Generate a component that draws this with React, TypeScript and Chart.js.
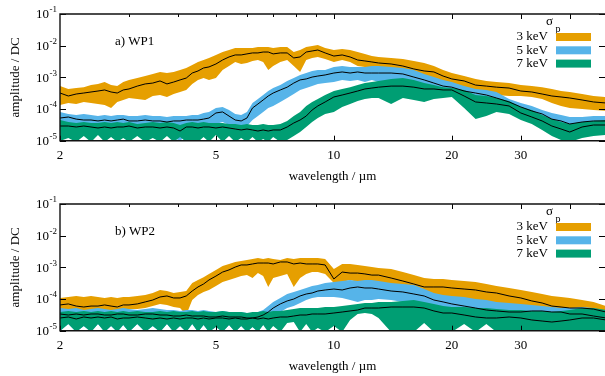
import React, { useEffect, useRef } from 'react';
import { Chart, registerables } from 'chart.js';

Chart.register(...registerables);

const SERIF = "'Liberation Serif', 'Times New Roman', Times, serif";

// ---------------- data ----------------
const WAVE = [
  2.0, 2.1, 2.2, 2.3, 2.4, 2.5, 2.6, 2.7, 2.8, 2.9,
  3.0, 3.15, 3.3, 3.45, 3.6, 3.75, 3.9, 4.05, 4.2, 4.35,
  4.5, 4.65, 4.8, 5.0, 5.2, 5.4, 5.6, 5.8, 6.0, 6.2,
  6.4, 6.6, 6.8, 7.0, 7.3, 7.6, 7.9, 8.2, 8.5, 8.8,
  9.1, 9.5, 10, 10.5, 11, 11.5, 12, 12.5, 13, 14,
  15, 16, 17, 18, 19, 20, 21.5, 23, 24.5, 26,
  28, 30, 32, 34, 36, 38, 40, 43, 46, 49.5,
];

const SERIES_LABELS = ['3 keV', '5 keV', '7 keV'];
const PANEL_LABELS = ['a) WP1', 'b) WP2'];
const X_TICKS = [2, 5, 10, 20, 30];
const X_TOP_TICKS = [3, 4, 5, 6, 7, 8, 9, 10, 20, 30, 40];
const X_TOP_MAJOR = [10, 20, 30, 40];
const Y_TICK_EXPONENTS = [-1, -2, -3, -4, -5];

// WP1, 3 keV
const WP1_3_HI = [
  5.3e-4, 4.3e-4, 4.6e-4, 4.9e-4, 5.7e-4, 6.2e-4, 7.1e-4, 5.7e-4, 5.3e-4, 7.1e-4,
  8.3e-4, 9.5e-4, 1.1e-3, 1.28e-3, 1.48e-3, 1.37e-3, 1.48e-3, 1.71e-3, 1.98e-3, 2.46e-3,
  3.06e-3, 3.53e-3, 4.1e-3, 5.1e-3, 6.3e-3, 7.3e-3, 8.5e-3, 8.5e-3, 8.5e-3, 8.5e-3,
  9.1e-3, 9.1e-3, 9.1e-3, 8.5e-3, 9.1e-3, 9.1e-3, 6.3e-3, 7.3e-3, 9.1e-3, 9.8e-3,
  1.05e-2, 8.5e-3, 7.3e-3, 7.9e-3, 7.3e-3, 6.3e-3, 5.5e-3, 4.7e-3, 4.4e-3, 4.1e-3,
  3.8e-3, 3.29e-3, 2.84e-3, 2.28e-3, 1.71e-3, 1.37e-3, 1.1e-3, 8.9e-4, 7.7e-4, 7.1e-4,
  6.6e-4, 5.7e-4, 5.3e-4, 4.9e-4, 4.3e-4, 3.7e-4, 3.45e-4, 2.98e-4, 2.58e-4, 2.4e-4,
];
const WP1_3_MED = [
  3.2e-4, 2.58e-4, 2.98e-4, 3.2e-4, 3.45e-4, 3.7e-4, 4.0e-4, 3.45e-4, 3.2e-4, 4.0e-4,
  4.3e-4, 5.3e-4, 6.2e-4, 6.6e-4, 7.7e-4, 6.2e-4, 7.1e-4, 8.3e-4, 9.5e-4, 1.37e-3,
  1.59e-3, 1.98e-3, 2.13e-3, 2.64e-3, 3.53e-3, 4.4e-3, 5.1e-3, 5.1e-3, 5.5e-3, 5.9e-3,
  5.9e-3, 6.3e-3, 6.3e-3, 5.5e-3, 5.9e-3, 5.9e-3, 4.1e-3, 4.4e-3, 6.3e-3, 6.8e-3,
  7.3e-3, 5.9e-3, 4.7e-3, 5.1e-3, 4.4e-3, 3.53e-3, 3.29e-3, 3.06e-3, 2.84e-3, 2.64e-3,
  2.28e-3, 1.84e-3, 1.59e-3, 1.48e-3, 1.1e-3, 8.9e-4, 7.7e-4, 5.7e-4, 5.3e-4, 4.9e-4,
  4.6e-4, 3.7e-4, 3.45e-4, 2.98e-4, 2.58e-4, 2.4e-4, 2.23e-4, 1.93e-4, 1.67e-4, 1.55e-4,
];
const WP1_3_LO = [
  1.34e-4, 1.55e-4, 1.44e-4, 1.67e-4, 1.55e-4, 1.44e-4, 1.34e-4, 1.08e-4, 1.67e-4, 1.93e-4,
  2.23e-4, 2.07e-4, 1.93e-4, 2.58e-4, 2.77e-4, 2.4e-4, 2.98e-4, 3.45e-4, 4.0e-4, 6.2e-4,
  8.3e-4, 9.5e-4, 8.3e-4, 9.5e-4, 1.71e-3, 2.28e-3, 3.06e-3, 2.64e-3, 2.84e-3, 3.29e-3,
  3.53e-3, 3.06e-3, 1.71e-3, 2.28e-3, 3.06e-3, 3.53e-3, 2.28e-3, 1.48e-3, 3.53e-3, 4.1e-3,
  4.4e-3, 3.8e-3, 3.06e-3, 3.53e-3, 3.06e-3, 2.28e-3, 2.13e-3, 1.98e-3, 1.71e-3, 1.59e-3,
  1.48e-3, 1.28e-3, 1.02e-3, 8.9e-4, 7.1e-4, 6.6e-4, 4.9e-4, 3.7e-4, 3.2e-4, 2.77e-4,
  2.58e-4, 2.58e-4, 2.4e-4, 2.07e-4, 1.55e-4, 1.25e-4, 1.08e-4, 1.0e-4, 9.3e-5, 8.7e-5,
];

// WP1, 5 keV
const WP1_5_HI = [
  8.1e-5, 7.0e-5, 6.5e-5, 7.0e-5, 6.5e-5, 6.0e-5, 6.5e-5, 6.0e-5, 6.5e-5, 6.5e-5,
  6.0e-5, 6.0e-5, 6.5e-5, 6.0e-5, 6.0e-5, 5.6e-5, 6.0e-5, 6.0e-5, 6.0e-5, 6.5e-5,
  6.5e-5, 7.5e-5, 8.1e-5, 1.08e-4, 1.16e-4, 9.3e-5, 7.0e-5, 6.5e-5, 8.1e-5, 1.55e-4,
  2.07e-4, 2.77e-4, 3.7e-4, 4.6e-4, 5.7e-4, 7.7e-4, 9.5e-4, 1.19e-3, 1.37e-3, 1.59e-3,
  1.71e-3, 1.71e-3, 2.13e-3, 2.28e-3, 2.13e-3, 2.13e-3, 2.13e-3, 2.28e-3, 2.28e-3, 2.13e-3,
  1.98e-3, 1.71e-3, 1.28e-3, 1.02e-3, 8.3e-4, 7.1e-4, 5.3e-4, 4.3e-4, 4.0e-4, 3.45e-4,
  2.07e-4, 1.55e-4, 1.25e-4, 9.3e-5, 7.5e-5, 6.5e-5, 5.6e-5, 5.6e-5, 6.0e-5, 6.0e-5,
];
const WP1_5_MED = [
  5.2e-5, 5.6e-5, 4.8e-5, 4.5e-5, 4.5e-5, 4.2e-5, 4.5e-5, 4.2e-5, 4.5e-5, 4.8e-5,
  4.2e-5, 4.2e-5, 4.5e-5, 4.2e-5, 4.2e-5, 3.89e-5, 4.2e-5, 4.2e-5, 4.5e-5, 4.5e-5,
  4.5e-5, 4.8e-5, 5.2e-5, 7.5e-5, 8.1e-5, 6.0e-5, 4.5e-5, 4.2e-5, 5.2e-5, 1.08e-4,
  1.44e-4, 1.93e-4, 2.58e-4, 3.2e-4, 4.0e-4, 4.9e-4, 6.6e-4, 8.3e-4, 8.9e-4, 1.02e-3,
  1.1e-3, 1.19e-3, 1.37e-3, 1.48e-3, 1.37e-3, 1.48e-3, 1.37e-3, 1.37e-3, 1.37e-3, 1.37e-3,
  1.28e-3, 1.02e-3, 8.3e-4, 6.6e-4, 5.3e-4, 4.9e-4, 3.7e-4, 3.2e-4, 2.77e-4, 2.23e-4,
  1.67e-4, 1.16e-4, 8.7e-5, 7.0e-5, 4.8e-5, 4.2e-5, 3.37e-5, 3.89e-5, 4.2e-5, 4.2e-5,
];
const WP1_5_LO = [
  2.52e-5, 2.18e-5, 2.52e-5, 2.34e-5, 2.18e-5, 2.02e-5, 2.18e-5, 1.88e-5, 2.18e-5, 2.34e-5,
  2.02e-5, 1.88e-5, 2.18e-5, 2.02e-5, 1.88e-5, 1.63e-5, 1.41e-5, 9.1e-6, 1.88e-5, 2.18e-5,
  2.18e-5, 2.52e-5, 2.71e-5, 3.37e-5, 3.89e-5, 3.13e-5, 2.71e-5, 2.52e-5, 2.91e-5, 4.5e-5,
  6.0e-5, 8.1e-5, 1.08e-4, 1.25e-4, 1.67e-4, 2.23e-4, 2.98e-4, 4.0e-4, 4.6e-4, 5.3e-4,
  6.2e-4, 6.6e-4, 7.1e-4, 8.3e-4, 7.7e-4, 8.3e-4, 7.1e-4, 8.3e-4, 7.1e-4, 7.7e-4,
  8.3e-4, 6.6e-4, 5.7e-4, 4.6e-4, 4.0e-4, 3.45e-4, 2.58e-4, 2.23e-4, 2.07e-4, 1.67e-4,
  1.25e-4, 9.3e-5, 6.5e-5, 4.8e-5, 3.89e-5, 3.13e-5, 2.52e-5, 2.71e-5, 2.91e-5, 2.91e-5,
];

// WP1, 7 keV
const WP1_7_HI = [
  4.5e-5, 3.89e-5, 3.62e-5, 3.89e-5, 3.62e-5, 3.62e-5, 3.89e-5, 3.62e-5, 3.89e-5, 3.62e-5,
  3.89e-5, 3.37e-5, 3.62e-5, 3.89e-5, 3.62e-5, 3.89e-5, 3.62e-5, 3.13e-5, 3.62e-5, 3.89e-5,
  3.62e-5, 3.89e-5, 3.62e-5, 3.62e-5, 3.62e-5, 3.37e-5, 3.37e-5, 3.13e-5, 3.37e-5, 3.13e-5,
  3.13e-5, 3.37e-5, 3.13e-5, 3.13e-5, 3.37e-5, 4.2e-5, 6.0e-5, 8.1e-5, 1.25e-4, 1.67e-4,
  2.07e-4, 2.77e-4, 3.7e-4, 4.3e-4, 4.9e-4, 5.7e-4, 6.6e-4, 7.1e-4, 7.7e-4, 8.9e-4,
  9.5e-4, 8.3e-4, 6.6e-4, 5.7e-4, 4.9e-4, 4.6e-4, 4.0e-4, 2.77e-4, 2.58e-4, 2.23e-4,
  1.79e-4, 1.16e-4, 9.3e-5, 6.5e-5, 4.8e-5, 3.89e-5, 3.37e-5, 3.89e-5, 4.2e-5, 4.5e-5,
];
const WP1_7_MED = [
  2.91e-5, 2.91e-5, 2.71e-5, 2.91e-5, 2.71e-5, 2.52e-5, 2.71e-5, 2.52e-5, 2.71e-5, 2.71e-5,
  2.91e-5, 2.52e-5, 2.71e-5, 2.71e-5, 2.52e-5, 2.71e-5, 2.52e-5, 2.02e-5, 2.71e-5, 2.71e-5,
  2.52e-5, 2.71e-5, 2.71e-5, 2.52e-5, 2.71e-5, 2.52e-5, 2.34e-5, 2.18e-5, 2.34e-5, 2.18e-5,
  2.02e-5, 2.18e-5, 2.02e-5, 2.18e-5, 2.18e-5, 2.71e-5, 3.62e-5, 4.5e-5, 6.0e-5, 9.3e-5,
  1.25e-4, 1.67e-4, 2.4e-4, 2.77e-4, 3.2e-4, 3.7e-4, 4.3e-4, 4.6e-4, 4.9e-4, 5.3e-4,
  5.3e-4, 4.9e-4, 4.3e-4, 4.3e-4, 4.0e-4, 4.0e-4, 2.58e-4, 1.67e-4, 1.55e-4, 1.44e-4,
  1.25e-4, 7.5e-5, 5.6e-5, 4.2e-5, 2.91e-5, 2.34e-5, 1.88e-5, 2.71e-5, 3.13e-5, 3.13e-5,
];
const WP1_7_LO = [
  9.8e-6, 1.22e-5, 9.1e-6, 1.41e-5, 9.1e-6, 1.51e-5, 9.1e-6, 1.31e-5, 9.1e-6, 1.22e-5,
  9.1e-6, 1.41e-5, 9.1e-6, 1.22e-5, 9.1e-6, 1.41e-5, 9.1e-6, 1.31e-5, 9.1e-6, 1.05e-5,
  9.1e-6, 1.31e-5, 9.1e-6, 1.51e-5, 9.1e-6, 1.41e-5, 9.1e-6, 1.22e-5, 9.1e-6, 1.31e-5,
  9.1e-6, 1.13e-5, 9.1e-6, 1.31e-5, 9.1e-6, 1.05e-5, 1.41e-5, 1.88e-5, 2.71e-5, 3.89e-5,
  5.2e-5, 7.0e-5, 8.1e-5, 1.16e-4, 1.44e-4, 1.79e-4, 2.07e-4, 2.23e-4, 2.23e-4, 1.44e-4,
  2.23e-4, 1.93e-4, 1.67e-4, 2.07e-4, 2.23e-4, 2.4e-4, 1.08e-4, 4.8e-5, 6.0e-5, 8.1e-5,
  7.0e-5, 4.5e-5, 3.37e-5, 2.18e-5, 1.41e-5, 1.05e-5, 9.1e-6, 1.22e-5, 1.41e-5, 1.51e-5,
];

// WP2, 3 keV
const WP2_3_HI = [
  1.08e-4, 1.16e-4, 1.25e-4, 1.16e-4, 1.25e-4, 1.16e-4, 1.08e-4, 1.16e-4, 1.08e-4, 1.16e-4,
  1.16e-4, 1.25e-4, 1.34e-4, 1.55e-4, 1.93e-4, 1.79e-4, 1.55e-4, 1.67e-4, 1.79e-4, 3.2e-4,
  4.0e-4, 4.9e-4, 6.2e-4, 8.3e-4, 1.1e-3, 1.28e-3, 1.48e-3, 1.59e-3, 1.71e-3, 1.84e-3,
  1.98e-3, 1.84e-3, 1.98e-3, 1.84e-3, 1.71e-3, 1.98e-3, 1.84e-3, 1.98e-3, 1.98e-3, 1.98e-3,
  1.98e-3, 1.84e-3, 8.9e-4, 1.28e-3, 1.28e-3, 1.19e-3, 1.1e-3, 1.02e-3, 9.5e-4, 8.9e-4,
  7.1e-4, 5.7e-4, 4.6e-4, 4.3e-4, 4.3e-4, 4.0e-4, 3.7e-4, 3.45e-4, 2.98e-4, 2.58e-4,
  2.23e-4, 1.93e-4, 1.67e-4, 1.44e-4, 1.25e-4, 1.16e-4, 1.08e-4, 9.3e-5, 8.1e-5, 6.0e-5,
];
const WP2_3_MED = [
  6.5e-5, 7.0e-5, 6.0e-5, 5.6e-5, 6.0e-5, 6.0e-5, 6.5e-5, 6.0e-5, 5.6e-5, 6.5e-5,
  6.5e-5, 7.0e-5, 8.1e-5, 9.3e-5, 1.16e-4, 1.25e-4, 1.08e-4, 1.08e-4, 1.25e-4, 1.79e-4,
  2.4e-4, 2.98e-4, 4.0e-4, 5.3e-4, 7.1e-4, 8.3e-4, 1.02e-3, 1.19e-3, 1.19e-3, 1.28e-3,
  1.37e-3, 1.37e-3, 1.37e-3, 1.28e-3, 1.48e-3, 1.48e-3, 1.28e-3, 1.37e-3, 1.28e-3, 1.28e-3,
  1.28e-3, 1.19e-3, 4.3e-4, 7.1e-4, 6.6e-4, 6.6e-4, 6.2e-4, 5.7e-4, 5.7e-4, 4.6e-4,
  3.7e-4, 2.98e-4, 2.4e-4, 2.4e-4, 2.4e-4, 2.23e-4, 2.07e-4, 1.93e-4, 1.67e-4, 1.55e-4,
  1.25e-4, 1.08e-4, 8.7e-5, 7.5e-5, 6.0e-5, 5.6e-5, 5.2e-5, 5.2e-5, 4.8e-5, 3.89e-5,
];
const WP2_3_LO = [
  4.5e-5, 4.2e-5, 4.5e-5, 4.2e-5, 4.5e-5, 4.2e-5, 4.5e-5, 4.2e-5, 4.5e-5, 4.5e-5,
  4.8e-5, 4.8e-5, 5.2e-5, 6.0e-5, 7.0e-5, 6.5e-5, 5.6e-5, 5.2e-5, 3.13e-5, 9.3e-5,
  1.34e-4, 1.67e-4, 1.93e-4, 2.58e-4, 3.45e-4, 4.0e-4, 4.6e-4, 5.3e-4, 5.7e-4, 4.6e-4,
  6.6e-4, 5.3e-4, 2.4e-4, 4.6e-4, 5.3e-4, 6.2e-4, 2.4e-4, 4.6e-4, 6.2e-4, 7.1e-4,
  7.1e-4, 6.2e-4, 3.2e-4, 3.45e-4, 4.0e-4, 3.45e-4, 3.2e-4, 2.77e-4, 2.4e-4, 2.23e-4,
  1.79e-4, 1.44e-4, 1.25e-4, 1.16e-4, 1.16e-4, 1.08e-4, 9.3e-5, 8.7e-5, 7.5e-5, 6.5e-5,
  5.6e-5, 5.2e-5, 4.5e-5, 4.2e-5, 3.89e-5, 3.62e-5, 3.37e-5, 3.37e-5, 2.91e-5, 2.52e-5,
];

// WP2, 5 keV
const WP2_5_HI = [
  5.2e-5, 4.8e-5, 5.2e-5, 4.5e-5, 4.8e-5, 5.2e-5, 4.8e-5, 4.5e-5, 4.8e-5, 5.2e-5,
  4.8e-5, 4.5e-5, 4.8e-5, 5.2e-5, 4.8e-5, 4.5e-5, 4.5e-5, 4.2e-5, 4.5e-5, 4.5e-5,
  4.2e-5, 4.5e-5, 4.2e-5, 3.89e-5, 4.2e-5, 3.89e-5, 3.89e-5, 3.89e-5, 3.62e-5, 3.62e-5,
  3.89e-5, 4.5e-5, 6.0e-5, 8.1e-5, 1.08e-4, 1.44e-4, 1.67e-4, 1.93e-4, 2.23e-4, 2.58e-4,
  2.77e-4, 3.2e-4, 3.45e-4, 3.7e-4, 4.0e-4, 3.7e-4, 4.0e-4, 4.0e-4, 3.7e-4, 3.2e-4,
  2.98e-4, 2.77e-4, 2.07e-4, 1.55e-4, 1.34e-4, 1.25e-4, 1.16e-4, 1.0e-4, 9.3e-5, 8.1e-5,
  7.5e-5, 7.0e-5, 6.5e-5, 6.0e-5, 5.6e-5, 5.2e-5, 5.2e-5, 5.6e-5, 5.2e-5, 3.89e-5,
];
const WP2_5_MED = [
  3.37e-5, 3.13e-5, 3.37e-5, 3.13e-5, 3.37e-5, 3.37e-5, 3.13e-5, 3.13e-5, 3.37e-5, 3.37e-5,
  3.13e-5, 3.13e-5, 3.37e-5, 3.37e-5, 3.13e-5, 3.13e-5, 2.91e-5, 2.91e-5, 3.13e-5, 2.91e-5,
  2.91e-5, 2.91e-5, 2.71e-5, 2.71e-5, 2.91e-5, 2.71e-5, 2.71e-5, 2.71e-5, 2.52e-5, 2.52e-5,
  2.71e-5, 3.13e-5, 3.89e-5, 5.2e-5, 7.0e-5, 8.7e-5, 1.0e-4, 1.25e-4, 1.44e-4, 1.55e-4,
  1.79e-4, 1.93e-4, 2.07e-4, 1.93e-4, 2.23e-4, 2.4e-4, 2.23e-4, 2.23e-4, 2.07e-4, 1.79e-4,
  1.67e-4, 1.44e-4, 1.25e-4, 9.3e-5, 8.1e-5, 7.0e-5, 6.0e-5, 5.2e-5, 4.5e-5, 4.2e-5,
  3.89e-5, 3.89e-5, 4.2e-5, 4.2e-5, 3.89e-5, 3.89e-5, 3.37e-5, 3.37e-5, 2.91e-5, 2.52e-5,
];
const WP2_5_LO = [
  9.8e-6, 1.63e-5, 9.1e-6, 1.41e-5, 9.1e-6, 1.63e-5, 9.1e-6, 1.41e-5, 9.1e-6, 1.51e-5,
  9.1e-6, 1.63e-5, 9.1e-6, 1.41e-5, 9.1e-6, 1.63e-5, 9.1e-6, 1.41e-5, 9.1e-6, 1.63e-5,
  9.1e-6, 1.51e-5, 9.1e-6, 1.31e-5, 9.1e-6, 1.51e-5, 9.1e-6, 1.41e-5, 9.1e-6, 1.31e-5,
  9.1e-6, 1.51e-5, 1.63e-5, 2.52e-5, 3.89e-5, 5.2e-5, 6.0e-5, 7.5e-5, 9.3e-5, 1.08e-4,
  1.16e-4, 1.16e-4, 1.16e-4, 1.08e-4, 9.3e-5, 8.1e-5, 9.3e-5, 9.3e-5, 1.0e-4, 9.3e-5,
  8.1e-5, 7.0e-5, 5.6e-5, 4.5e-5, 4.2e-5, 3.89e-5, 3.37e-5, 3.13e-5, 2.91e-5, 2.52e-5,
  2.34e-5, 2.34e-5, 2.34e-5, 2.18e-5, 2.18e-5, 2.18e-5, 2.02e-5, 2.02e-5, 1.75e-5, 1.63e-5,
];

// WP2, 7 keV
const WP2_7_HI = [
  3.89e-5, 4.2e-5, 3.89e-5, 4.2e-5, 3.89e-5, 4.2e-5, 3.89e-5, 4.2e-5, 3.89e-5, 4.2e-5,
  3.89e-5, 4.2e-5, 3.89e-5, 3.89e-5, 4.2e-5, 3.89e-5, 4.2e-5, 3.89e-5, 3.89e-5, 4.2e-5,
  3.89e-5, 4.2e-5, 3.89e-5, 3.89e-5, 4.2e-5, 3.89e-5, 3.89e-5, 3.89e-5, 3.62e-5, 3.89e-5,
  3.89e-5, 4.2e-5, 3.89e-5, 4.2e-5, 4.2e-5, 4.5e-5, 4.8e-5, 5.2e-5, 5.2e-5, 5.2e-5,
  5.2e-5, 5.6e-5, 5.6e-5, 6.0e-5, 6.5e-5, 7.0e-5, 7.5e-5, 7.5e-5, 8.1e-5, 8.1e-5,
  8.7e-5, 9.3e-5, 8.1e-5, 7.0e-5, 6.0e-5, 5.6e-5, 5.6e-5, 5.2e-5, 5.2e-5, 4.8e-5,
  4.5e-5, 4.5e-5, 4.2e-5, 4.2e-5, 3.89e-5, 4.2e-5, 4.5e-5, 5.2e-5, 5.2e-5, 4.5e-5,
];
const WP2_7_MED = [
  2.52e-5, 2.71e-5, 2.34e-5, 2.71e-5, 2.52e-5, 2.71e-5, 2.52e-5, 2.71e-5, 2.34e-5, 2.52e-5,
  2.52e-5, 2.71e-5, 2.52e-5, 2.34e-5, 2.52e-5, 2.34e-5, 2.52e-5, 2.34e-5, 2.52e-5, 2.52e-5,
  2.34e-5, 2.52e-5, 2.34e-5, 2.52e-5, 2.52e-5, 2.34e-5, 2.52e-5, 2.34e-5, 2.34e-5, 2.52e-5,
  2.34e-5, 2.52e-5, 2.34e-5, 2.52e-5, 2.71e-5, 2.71e-5, 2.91e-5, 3.13e-5, 3.13e-5, 3.37e-5,
  3.37e-5, 3.37e-5, 3.62e-5, 3.89e-5, 4.2e-5, 4.5e-5, 5.2e-5, 5.2e-5, 5.2e-5, 5.6e-5,
  5.6e-5, 5.6e-5, 5.2e-5, 4.2e-5, 3.62e-5, 3.62e-5, 3.13e-5, 2.71e-5, 2.52e-5, 2.52e-5,
  2.71e-5, 2.52e-5, 2.18e-5, 2.02e-5, 1.88e-5, 2.02e-5, 2.18e-5, 2.52e-5, 2.52e-5, 2.18e-5,
];
const WP2_7_LO = [
  9.8e-6, 1.63e-5, 9.1e-6, 1.41e-5, 9.1e-6, 1.63e-5, 9.1e-6, 1.41e-5, 9.1e-6, 1.51e-5,
  9.1e-6, 1.63e-5, 9.1e-6, 1.41e-5, 9.1e-6, 1.63e-5, 9.1e-6, 1.41e-5, 9.1e-6, 1.63e-5,
  9.1e-6, 1.51e-5, 9.1e-6, 1.31e-5, 9.1e-6, 1.51e-5, 9.1e-6, 1.41e-5, 9.1e-6, 1.31e-5,
  9.1e-6, 1.51e-5, 9.1e-6, 1.41e-5, 9.1e-6, 1.75e-5, 1.88e-5, 9.1e-6, 1.63e-5, 9.1e-6,
  1.22e-5, 9.1e-6, 1.41e-5, 9.1e-6, 2.18e-5, 3.37e-5, 3.62e-5, 3.37e-5, 2.52e-5, 9.1e-6,
  9.1e-6, 9.1e-6, 1.75e-5, 9.1e-6, 9.1e-6, 9.1e-6, 1.63e-5, 9.1e-6, 1.63e-5, 9.1e-6,
  9.1e-6, 9.1e-6, 9.1e-6, 9.1e-6, 9.1e-6, 9.1e-6, 9.1e-6, 9.1e-6, 9.1e-6, 9.1e-6,
];

// ---------------- styling ----------------
const COLORS = ['#E69F00', '#56B4E9', '#009E73'];
const X_MIN = 2;
const X_MAX = 49.2;

type Band = { lo: number[]; med: number[]; hi: number[] };

const PANELS: { label: string; bands: Band[]; height: number; titlePad: number }[] = [
  {
    label: PANEL_LABELS[0],
    height: 190,
    titlePad: 5.5,
    bands: [
      { lo: WP1_3_LO, med: WP1_3_MED, hi: WP1_3_HI },
      { lo: WP1_5_LO, med: WP1_5_MED, hi: WP1_5_HI },
      { lo: WP1_7_LO, med: WP1_7_MED, hi: WP1_7_HI },
    ],
  },
  {
    label: PANEL_LABELS[1],
    height: 186,
    titlePad: 1.5,
    bands: [
      { lo: WP2_3_LO, med: WP2_3_MED, hi: WP2_3_HI },
      { lo: WP2_5_LO, med: WP2_5_MED, hi: WP2_5_HI },
      { lo: WP2_7_LO, med: WP2_7_MED, hi: WP2_7_HI },
    ],
  },
];

const pts = (ys: number[]) => WAVE.map((x, i) => ({ x, y: ys[i] }));

function makeDeco(label: string) {
  return {
    id: 'deco',
    afterDraw(chart: any) {
      const { ctx, chartArea: a, scales } = chart;
      const xs = scales.x;
      const ys = scales.y;
      ctx.save();
      ctx.strokeStyle = '#000';
      ctx.lineWidth = 1;
      ctx.beginPath();
      for (const e of Y_TICK_EXPONENTS) {
        const y = Math.round(ys.getPixelForValue(Math.pow(10, e))) + 0.5;
        ctx.moveTo(a.left, y);
        ctx.lineTo(a.left + 6, y);
        ctx.moveTo(a.right, y);
        ctx.lineTo(a.right - 6, y);
      }
      for (const v of X_TICKS) {
        const x = Math.round(xs.getPixelForValue(v)) + 0.5;
        ctx.moveTo(x, a.bottom);
        ctx.lineTo(x, a.bottom - 5);
      }
      for (const v of X_TOP_TICKS) {
        const x = Math.round(xs.getPixelForValue(v)) + 0.5;
        const len = X_TOP_MAJOR.includes(v) ? 5 : 3;
        ctx.moveTo(x, a.top);
        ctx.lineTo(x, a.top + len);
      }
      ctx.stroke();

      // frame (left, top, bottom)
      ctx.lineWidth = 1.4;
      ctx.strokeStyle = '#111';
      ctx.beginPath();
      ctx.moveTo(a.right, a.top);
      ctx.lineTo(a.left, a.top);
      ctx.lineTo(a.left, a.bottom);
      ctx.lineTo(a.right, a.bottom);
      ctx.stroke();

      // y tick labels 10^n
      ctx.fillStyle = '#000';
      ctx.textBaseline = 'middle';
      for (const e of Y_TICK_EXPONENTS) {
        const y = ys.getPixelForValue(Math.pow(10, e));
        const sup = String(e);
        ctx.font = `9px ${SERIF}`;
        const sw = ctx.measureText(sup).width;
        ctx.textAlign = 'left';
        ctx.fillText(sup, a.left - 3 - sw, y - 4);
        ctx.font = `13px ${SERIF}`;
        ctx.textAlign = 'right';
        ctx.fillText('10', a.left - 3.5 - sw, y + 1);
      }

      // panel label
      ctx.font = `13px ${SERIF}`;
      ctx.textAlign = 'left';
      ctx.fillText(label, 115, a.top + 28);

      // legend
      ctx.font = `13px ${SERIF}`;
      ctx.fillText('\u03C3', 546, a.top + 8);
      ctx.font = `10px ${SERIF}`;
      ctx.fillText('p', 555.5, a.top + 15);
      SERIES_LABELS.forEach((t, i) => {
        const cy = a.top + 23 + i * 13.3;
        ctx.font = `13px ${SERIF}`;
        ctx.textAlign = 'right';
        ctx.fillStyle = '#000';
        ctx.fillText(t, 548, cy);
        ctx.fillStyle = COLORS[i];
        ctx.fillRect(556, cy - 4, 35, 8);
      });
      ctx.restore();
    },
  };
}

function Panel({ label, bands, height, titlePad }: { label: string; bands: Band[]; height: number; titlePad: number }) {
  const ref = useRef<HTMLCanvasElement>(null);
  useEffect(() => {
    if (!ref.current) return;
    const datasets: any[] = [];
    bands.forEach((b, i) => {
      const order = 30 - i * 10;
      datasets.push({
        data: pts(b.lo),
        borderWidth: 0,
        borderColor: 'transparent',
        pointRadius: 0,
        fill: false,
        order,
      });
      datasets.push({
        data: pts(b.hi),
        borderWidth: 0,
        borderColor: 'transparent',
        backgroundColor: COLORS[i],
        pointRadius: 0,
        fill: '-1',
        order,
      });
    });
    bands.forEach((b) => {
      datasets.push({
        data: pts(b.med),
        borderColor: '#000',
        borderWidth: 1,
        pointRadius: 0,
        fill: false,
        order: 0,
      });
    });

    const chart = new Chart(ref.current, {
      type: 'line',
      data: { datasets },
      options: {
        animation: false,
        responsive: false,
        devicePixelRatio: 1,
        layout: { padding: { top: 14, left: 0, right: 0, bottom: 0 } },
        elements: { line: { tension: 0 } },
        plugins: {
          legend: { display: false },
          tooltip: { enabled: false },
        },
        scales: {
          x: {
            type: 'logarithmic',
            position: 'bottom',
            min: X_MIN,
            max: X_MAX,
            grid: { display: false, drawTicks: false },
            border: { display: false },
            afterBuildTicks: (s: any) => {
              s.ticks = X_TICKS.map((v) => ({ value: v }));
            },
            afterFit: (s: any) => {
              s.height = height - 14 - 126.7;
            },
            ticks: {
              autoSkip: false,
              maxRotation: 0,
              padding: 7,
              color: '#000',
              font: { family: SERIF, size: 13 },
              callback: (v: any) => String(v),
            },
            title: {
              display: true,
              text: 'wavelength / \u00B5m',
              color: '#000',
              font: { family: SERIF, size: 13 },
              padding: { top: 0, bottom: titlePad },
            },
          },
          y: {
            type: 'logarithmic',
            position: 'left',
            min: 1e-5,
            max: 1e-1,
            grid: { display: false, drawTicks: false },
            border: { display: false },
            ticks: { display: false },
            afterFit: (s: any) => {
              s.width = 60;
            },
            title: {
              display: true,
              text: 'amplitude / DC',
              color: '#000',
              font: { family: SERIF, size: 13 },
              padding: { top: 8, bottom: 0 },
            },
          },
        },
      },
      plugins: [makeDeco(label)],
    } as any);
    return () => chart.destroy();
  }, [label, bands, height, titlePad]);
  return <canvas ref={ref} width={605} height={height} style={{ display: 'block', width: 605, height }} />;
}

export default function App() {
  return (
    <div style={{ position: 'absolute', left: 0, top: 0, width: 605, height: 376, overflow: 'hidden', background: '#fff' }}>
      {PANELS.map((p) => (
        <Panel key={p.label} label={p.label} bands={p.bands} height={p.height} titlePad={p.titlePad} />
      ))}
    </div>
  );
}
